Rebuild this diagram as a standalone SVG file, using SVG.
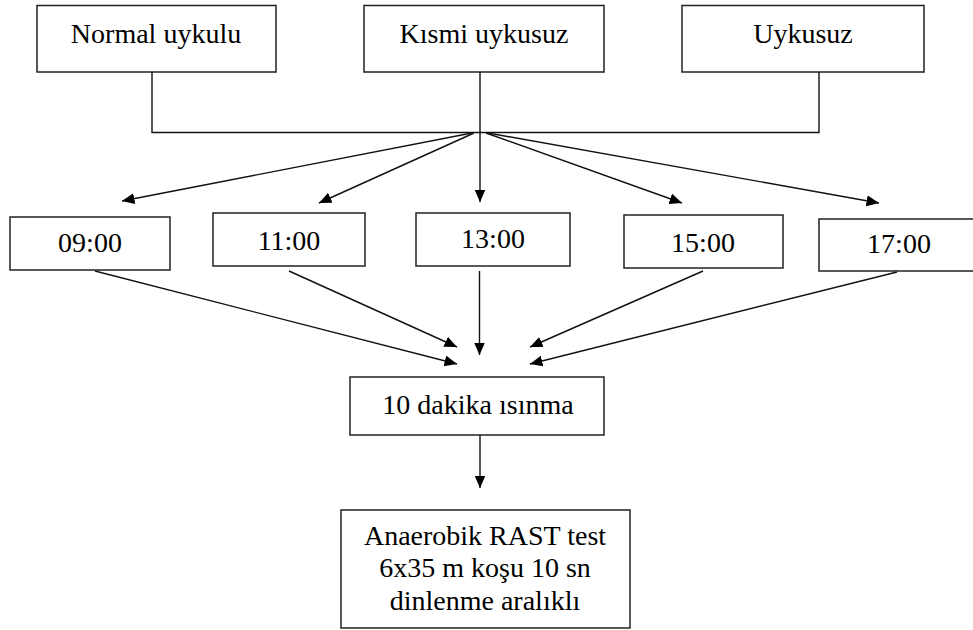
<svg xmlns="http://www.w3.org/2000/svg" width="973" height="630" viewBox="0 0 973 630">
<style>
.box{fill:#fff;stroke:#222;stroke-width:1.5}
.t{font-family:"Liberation Serif","Times New Roman",serif;font-size:28px;fill:#000;text-anchor:middle}
.c{fill:none;stroke:#111;stroke-width:1.4}
</style>
<defs>
<marker id="ah" markerUnits="userSpaceOnUse" markerWidth="13" markerHeight="12" refX="12.5" refY="5.5" orient="auto">
<path d="M0,0 L12.5,5.5 L0,11 z" fill="#000"/>
</marker>
</defs>
<rect width="973" height="630" fill="#fff"/>
<g id="normal"><rect class="box" x="37" y="5.5" width="239" height="66.5"/><text class="t" x="156" y="43">Normal uykulu</text></g>
<g id="kismi"><rect class="box" x="364" y="5.5" width="240" height="66.5"/><text class="t" x="484" y="43">Kısmi uykusuz</text></g>
<g id="uykusuz"><rect class="box" x="682" y="5.5" width="242" height="66.5"/><text class="t" x="803" y="43">Uykusuz</text></g>
<g id="t0900"><rect class="box" x="10" y="217" width="160" height="53"/><text class="t" x="90" y="252">09:00</text></g>
<g id="t1100"><rect class="box" x="213" y="213" width="152" height="53"/><text class="t" x="289" y="250">11:00</text></g>
<g id="t1300"><rect class="box" x="416" y="213" width="154" height="53"/><text class="t" x="493" y="248">13:00</text></g>
<g id="t1500"><rect class="box" x="624" y="215" width="159" height="53"/><text class="t" x="703" y="252">15:00</text></g>
<g id="t1700"><rect class="box" x="819" y="219" width="160" height="52"/><text class="t" x="899" y="253">17:00</text></g>
<g id="isinma"><rect class="box" x="350" y="377" width="254" height="58"/><text class="t" x="478" y="414">10 dakika ısınma</text></g>
<g id="rast"><rect class="box" x="341" y="510" width="289" height="118"/><text class="t" x="485" y="545">Anaerobik RAST test</text><text class="t" x="485" y="577">6x35 m koşu 10 sn</text><text class="t" x="485" y="610">dinlenme aralıklı</text></g>
<g id="connectors">
<polyline class="c" points="152,72 152,132.5 819,132.5 819,72"/>
<line class="c" x1="480" y1="72" x2="480" y2="202" marker-end="url(#ah)"/>
<line class="c" x1="472" y1="133" x2="122" y2="201" marker-end="url(#ah)"/>
<line class="c" x1="474" y1="133" x2="319" y2="203" marker-end="url(#ah)"/>
<line class="c" x1="486" y1="133" x2="682" y2="203" marker-end="url(#ah)"/>
<line class="c" x1="488" y1="133" x2="879" y2="203" marker-end="url(#ah)"/>
<line class="c" x1="95" y1="271" x2="457" y2="364" marker-end="url(#ah)"/>
<line class="c" x1="289" y1="271" x2="457" y2="347" marker-end="url(#ah)"/>
<line class="c" x1="479.5" y1="271" x2="479.5" y2="355" marker-end="url(#ah)"/>
<line class="c" x1="703" y1="271" x2="530" y2="347" marker-end="url(#ah)"/>
<line class="c" x1="897" y1="272" x2="530" y2="364" marker-end="url(#ah)"/>
<line class="c" x1="480" y1="435" x2="480" y2="488" marker-end="url(#ah)"/>
</g>
</svg>
